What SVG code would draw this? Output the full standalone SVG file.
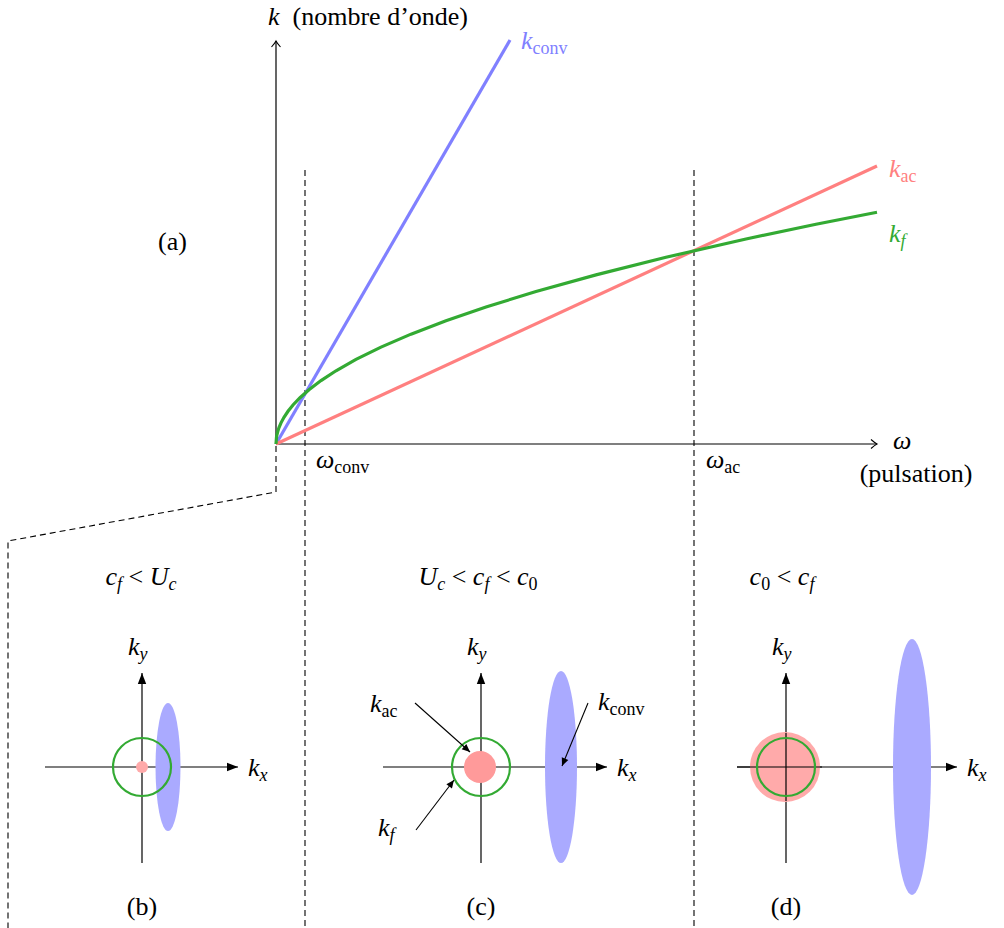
<svg xmlns="http://www.w3.org/2000/svg" width="1004" height="928" viewBox="0 0 1004 928" font-family="Liberation Serif, DejaVu Serif, Noto Serif, serif">
<style>
text{font-family:"Liberation Serif","DejaVu Serif","Noto Serif","Times New Roman",Times,serif;font-size:26px;fill:#000;white-space:pre}
.i{font-style:italic}
.s{font-size:18px}
.axis{stroke:#000;stroke-width:1.2;fill:none}
.dash{stroke:#000;stroke-width:1.1;fill:none;stroke-dasharray:6,4}
.kconv{stroke:#8080ff;stroke-width:3.2;fill:none}
.kac{stroke:#ff8080;stroke-width:3.2;fill:none}
.kf{stroke:#33aa33;stroke-width:3.2;fill:none}
.circ{stroke:#33aa33;stroke-width:2.2;fill:none}
.ell{fill:#aaaaff;stroke:none}
.ptr{stroke:#000;stroke-width:1.1;fill:none}
</style>
<defs>
<marker id="open" markerWidth="12" markerHeight="12" refX="0" refY="0" viewBox="-7 -6 9 12" orient="auto" markerUnits="userSpaceOnUse">
<path d="M -6 -4.5 Q -2 -1 0 0 Q -2 1 -6 4.5" stroke="#000" stroke-width="1.1" fill="none"/>
</marker>
<marker id="fill" markerWidth="14" markerHeight="10" refX="0" refY="0" viewBox="-12 -5 13 10" orient="auto" markerUnits="userSpaceOnUse">
<path d="M -11 -4.2 L 0 0 L -11 4.2 Z" fill="#000"/>
</marker>
<marker id="small" markerWidth="12" markerHeight="10" refX="0" refY="0" viewBox="-10 -5 11 10" orient="auto" markerUnits="userSpaceOnUse">
<path d="M -8 -3.5 L 0 0 L -8 3.5 Z" fill="#000"/>
</marker>
</defs>

<g id="connectors">
<line class="dash" x1="305" y1="170" x2="305" y2="928"/>
<line class="dash" x1="694" y1="170" x2="694" y2="928"/>
<polyline class="dash" points="276,446 276,492 8,541 8,928"/>
</g>

<g id="plot-a">
<line class="axis" x1="276" y1="444" x2="276" y2="41" marker-end="url(#open)"/>
<line class="axis" x1="276" y1="444" x2="877" y2="444" marker-end="url(#open)"/>
<line class="kconv" x1="276" y1="444" x2="510" y2="40"/>
<line class="kac" x1="276" y1="444" x2="877" y2="166"/>
<polyline class="kf" points="276,444 276.5,437.31 277,434.55 278,430.63 279,427.62 281,422.86 284,417.26 288,411.25 293,405.02 300,397.68 309,389.69 321,380.57 336,370.76 356,359.43 381,347.11 411,334.14 446,320.72 486,306.99 536,291.54 596,274.86 666,257.28 746,239.02 816,224.28 877,212.21"/>
<text x="268" y="25"><tspan class="i">k</tspan>  (nombre d’onde)</text>
<text x="521" y="49" style="fill:#8080ff"><tspan class="i">k</tspan><tspan class="s" dy="5">conv</tspan></text>
<text x="889" y="177" style="fill:#ff8080"><tspan class="i">k</tspan><tspan class="s" dy="5">ac</tspan></text>
<text x="889" y="242" style="fill:#33aa33"><tspan class="i">k</tspan><tspan class="s i" dy="5">f</tspan></text>
<text x="158" y="250">(a)</text>
<text x="316" y="468"><tspan class="i">ω</tspan><tspan class="s" dy="5">conv</tspan></text>
<text x="706" y="468"><tspan class="i">ω</tspan><tspan class="s" dy="5">ac</tspan></text>
<text x="893" y="449" class="i">ω</text>
<text x="916" y="482" text-anchor="middle">(pulsation)</text>
</g>

<g id="panel-b">
<line class="axis" x1="45" y1="767" x2="238" y2="767" marker-end="url(#fill)"/>
<line class="axis" x1="142" y1="863" x2="142" y2="673" marker-end="url(#fill)"/>
<ellipse class="ell" cx="168" cy="767" rx="12.5" ry="64"/>
<circle cx="142" cy="767" r="6" fill="#ffaaaa"/>
<circle class="circ" cx="142" cy="767" r="29"/>
<text x="248" y="776"><tspan class="i">k</tspan><tspan class="s i" dy="5">x</tspan></text>
<text x="128" y="655"><tspan class="i">k</tspan><tspan class="s i" dy="5">y</tspan></text>
<text x="141" y="585" text-anchor="middle"><tspan class="i">c</tspan><tspan class="s i" dy="5">f</tspan><tspan dy="-5"> &lt; </tspan><tspan class="i">U</tspan><tspan class="s i" dy="5">c</tspan></text>
<text x="142" y="915" text-anchor="middle">(b)</text>
</g>

<g id="panel-c">
<line class="axis" x1="383" y1="767" x2="607" y2="767" marker-end="url(#fill)"/>
<line class="axis" x1="481" y1="863" x2="481" y2="673" marker-end="url(#fill)"/>
<ellipse class="ell" cx="561" cy="767" rx="16" ry="96"/>
<circle cx="480" cy="767" r="16" fill="#ff9a9a"/>
<circle class="circ" cx="481" cy="767" r="29"/>
<line class="ptr" x1="415" y1="703" x2="470" y2="752" marker-end="url(#small)"/>
<line class="ptr" x1="416" y1="830" x2="454" y2="780" marker-end="url(#small)"/>
<line class="ptr" x1="588" y1="703" x2="562" y2="766" marker-end="url(#small)"/>
<text x="370" y="712"><tspan class="i">k</tspan><tspan class="s" dy="5">ac</tspan></text>
<text x="378" y="836"><tspan class="i">k</tspan><tspan class="s i" dy="5">f</tspan></text>
<text x="598" y="710"><tspan class="i">k</tspan><tspan class="s" dy="5">conv</tspan></text>
<text x="617" y="776"><tspan class="i">k</tspan><tspan class="s i" dy="5">x</tspan></text>
<text x="467" y="655"><tspan class="i">k</tspan><tspan class="s i" dy="5">y</tspan></text>
<text x="478" y="585" text-anchor="middle"><tspan class="i">U</tspan><tspan class="s i" dy="5">c</tspan><tspan dy="-5"> &lt; </tspan><tspan class="i">c</tspan><tspan class="s i" dy="5">f</tspan><tspan dy="-5"> &lt; </tspan><tspan class="i">c</tspan><tspan class="s" dy="5">0</tspan></text>
<text x="481" y="915" text-anchor="middle">(c)</text>
</g>

<g id="panel-d">
<line class="axis" x1="737" y1="767" x2="957" y2="767" marker-end="url(#fill)"/>
<line class="axis" x1="786" y1="863" x2="786" y2="673" marker-end="url(#fill)"/>
<ellipse class="ell" cx="912" cy="767" rx="19" ry="128"/>
<circle cx="785" cy="767" r="35" fill="#ffaaaa"/>
<line class="axis" x1="737" y1="767" x2="822" y2="767"/>
<line class="axis" x1="786" y1="733" x2="786" y2="801"/>
<circle class="circ" cx="786" cy="767" r="29"/>
<text x="967" y="776"><tspan class="i">k</tspan><tspan class="s i" dy="5">x</tspan></text>
<text x="772" y="655"><tspan class="i">k</tspan><tspan class="s i" dy="5">y</tspan></text>
<text x="782" y="585" text-anchor="middle"><tspan class="i">c</tspan><tspan class="s" dy="5">0</tspan><tspan dy="-5"> &lt; </tspan><tspan class="i">c</tspan><tspan class="s i" dy="5">f</tspan></text>
<text x="786" y="915" text-anchor="middle">(d)</text>
</g>
</svg>
